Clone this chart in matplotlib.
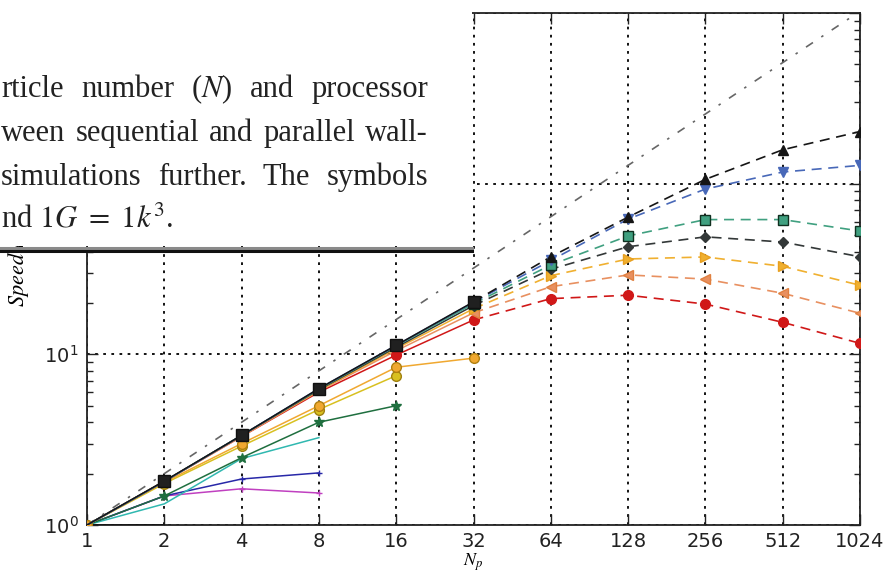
import matplotlib
matplotlib.use("Agg")
import matplotlib.pyplot as plt
from matplotlib.patches import Rectangle
from matplotlib.lines import Line2D
from matplotlib.ticker import FixedLocator, FixedFormatter, LogLocator, NullFormatter

# ---------------- data ----------------
procs = [1, 2, 4, 8, 16, 32, 64, 128, 256, 512, 1024]
x_ticklabels = ["1", "2", "4", "8", "16", "32", "64", "128", "256", "512", "1024"]
y_ticks = [1, 10, 100, 1000]
y_ticklabels = ["$\\mathdefault{10^{0}}$", "$\\mathdefault{10^{1}}$", "", ""]

# small problems, solid lines only
mag_vals = [1.0, 1.48, 1.63, 1.54]
blue_vals = [1.0, 1.48, 1.86, 2.02]
cyan_vals = [1.0, 1.33, 2.45, 3.25]
star_vals = [1.0, 1.48, 2.48, 4.0, 5.0]
gold_vals = [1.0, 1.75, 2.9, 4.75, 7.5]
orange_vals = [1.0, 1.78, 3.0, 5.0, 8.4, 9.5]
flat_vals = [1.0, 1.0]

# large problems: solid part (1..32) then dashed part (32..1024)
red_vals = [1.0, 1.8, 3.3, 6.0, 9.9, 15.9, 21.2, 22.2, 19.7, 15.4, 11.6]
left_vals = [1.0, 1.8, 3.3, 6.1, 10.5, 17.5, 24.9, 29.2, 27.6, 22.8, 17.4]
right_vals = [1.0, 1.8, 3.35, 6.15, 10.8, 18.5, 28.9, 36.2, 37.2, 32.8, 25.4]
diam_vals = [1.0, 1.8, 3.35, 6.2, 11.0, 19.3, 31.5, 42.7, 48.8, 45.5, 37.3]
square_vals = [1.0, 1.8, 3.35, 6.25, 11.2, 19.8, 33.4, 49.4, 61.6, 61.6, 52.8]
vdown_vals = [1.0, 1.8, 3.35, 6.3, 11.3, 20.2, 35.5, 62.0, 93.0, 117.0, 128.0]
tri_vals = [1.0, 1.81, 3.35, 6.3, 11.3, 20.3, 37.3, 63.7, 106.0, 158.0, 202.0]

caption_lines = [
    "rticle number ($N$) and processor",
    "ween sequential and parallel wall-",
    "simulations further. The symbols",
    "nd $1G\\ =\\ 1k^3$.",
]

# ---------------- figure ----------------
W, H = 889, 573
fig = plt.figure(figsize=(W / 100, H / 100), dpi=100)
fig.patch.set_facecolor("white")
ax = fig.add_axes([87 / W, 1 - 525 / H, (860 - 87) / W, (525 - 13) / H])
ax.set_xscale("log", base=2)
ax.set_yscale("log")
ax.set_xlim(1, 1024)
ax.set_ylim(1, 1000)

# ideal line
ax.plot([procs[0], procs[-1]], [procs[0], procs[-1]], color="#666666", lw=1.2,
        ls=(0, (5, 6, 1.5, 6)), zorder=2)

def solid(vals, color, marker=None, ms=5, mec=None, z=3):
    ax.plot(procs[:len(vals)], vals, color=color, lw=1.1, marker=marker, ms=ms,
            mec=mec if mec else color, mfc=color, zorder=z)

solid(flat_vals, "#111111")
solid(mag_vals, "#c040c0", "+", 4)
solid(blue_vals, "#2828a8", "+", 4)
solid(cyan_vals, "#30b8b0", None)
solid(star_vals, "#1f6f3f", "*", 7)
solid(gold_vals, "#d8c020", "o", 7, "#a08010")
solid(orange_vals, "#f0a830", "o", 7, "#b08010")

big = [
    (red_vals, "#d01818", "o", "#d01818"),
    (left_vals, "#e89060", "<", "#e08040"),
    (right_vals, "#f0b030", ">", "#e8a020"),
    (diam_vals, "#333838", "D", "#333838"),
    (square_vals, "#40a080", "s", "#103020"),
    (vdown_vals, "#4868b8", "v", "#4868b8"),
    (tri_vals, "#151515", "^", "#151515"),
]
for i, (vals, c, m, mec) in enumerate(big):
    ax.plot(procs[:6], vals[:6], color=c, lw=1.1, zorder=3 + i * 0.1)
    ax.plot(procs[5:], vals[5:], color=c, lw=1.2, ls=(0, (6, 4)), zorder=3 + i * 0.1)
    ax.plot(procs[5:], vals[5:], ls="none", marker=m, ms=7 if m != "D" else 5,
            mfc=c, mec=mec, zorder=4 + i * 0.1)
    if m == "o":
        ax.plot(procs[4:5], vals[4:5], ls="none", marker=m, ms=7, mfc=c, mec=mec, zorder=4)
# dark squares on the sequential-parallel part
ax.plot(procs[1:6], tri_vals[1:6], ls="none", marker="s", ms=8, mfc="#202020",
        mec="#101010", zorder=5)

# grid / ticks
ax.xaxis.set_major_locator(FixedLocator(procs))
ax.xaxis.set_major_formatter(FixedFormatter(x_ticklabels))
ax.xaxis.set_minor_locator(FixedLocator([]))
ax.yaxis.set_major_locator(FixedLocator(y_ticks))
ax.yaxis.set_major_formatter(FixedFormatter(y_ticklabels))
ax.yaxis.set_minor_locator(LogLocator(base=10, subs=range(2, 10)))
ax.yaxis.set_minor_formatter(NullFormatter())
ax.grid(True, which="major", color="black", ls=(0, (1.5, 3)), lw=1.3)
ax.tick_params(which="both", direction="in", top=True, right=True, labelsize=14,
               colors="#222222")
ax.tick_params(which="major", length=8, width=1)
ax.tick_params(which="minor", length=4, width=1)
ax.tick_params(axis="x", pad=5)
ax.tick_params(axis="y", pad=6)
for s in ax.spines.values():
    s.set_linewidth(1.3)
    s.set_color("#222222")

ax.set_xlabel("$N_p$", fontsize=13, math_fontfamily="stix", labelpad=0)
ax.set_ylabel("$Speedup$", fontsize=16, math_fontfamily="stix")
ax.yaxis.set_label_coords((31 - 87) / (860 - 87), 0.5)

# ---------------- overlay caption box ----------------
box_r = 472 / W
fig.patches.append(Rectangle((0, 1 - 246 / H), box_r, 246 / H, transform=fig.transFigure,
                             facecolor="white", edgecolor="none", zorder=10))
fig.lines.append(Line2D([0, box_r], [1 - 247.5 / H] * 2, transform=fig.transFigure,
                        color="#8a8a8a", lw=2.2, zorder=11))
fig.lines.append(Line2D([0, box_r], [1 - 251.5 / H] * 2, transform=fig.transFigure,
                        color="#111111", lw=2.2, zorder=11))

baselines = [97, 141, 185, 228]
right_edge = 428
renderer = fig.canvas.get_renderer()
for li, (txt, yb) in enumerate(zip(caption_lines, baselines)):
    kw = dict(fontsize=22, family="Liberation Serif", math_fontfamily="stix",
              color="#222222", va="baseline", ha="left", zorder=12)
    if li == len(caption_lines) - 1:
        fig.text(1 / W, 1 - yb / H, txt, **kw)
        continue
    words = txt.split(" ")
    objs = [fig.text(0, 1 - yb / H, w_, **kw) for w_ in words]
    widths = [o.get_window_extent(renderer).width for o in objs]
    gap = (right_edge - 1 - sum(widths)) / (len(words) - 1)
    xpos = 1.0
    for o, wd in zip(objs, widths):
        o.set_x(xpos / W)
        xpos += wd + gap

fig.savefig("out.png", dpi=100, facecolor="white")
